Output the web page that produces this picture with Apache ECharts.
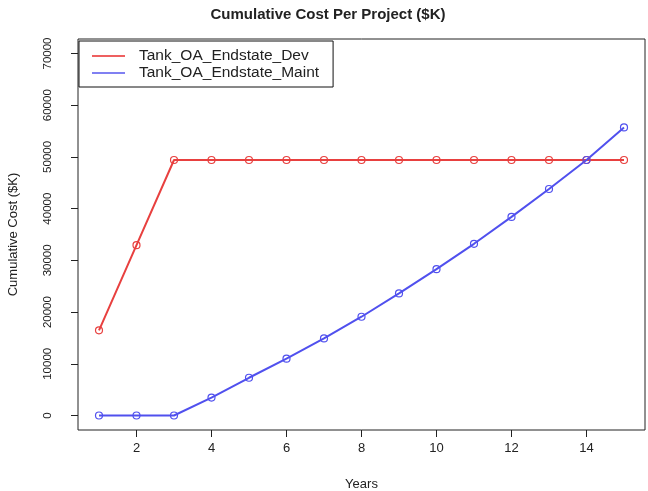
<!DOCTYPE html>
<html>
<head>
<meta charset="utf-8">
<script src="https://cdn.jsdelivr.net/npm/echarts@6/dist/echarts.min.js"></script>
<style>
  html, body { margin: 0; padding: 0; background: #fff; }
  #chart { width: 648px; height: 491px; }
</style>
</head>
<body>
<div id="chart"></div>
<script>
// Project years and cumulative cost ($K) for each endstate project
const years = [1, 2, 3, 4, 5, 6, 7, 8, 9, 10, 11, 12, 13, 14, 15];
const devCost = [16470, 32930, 49400, 49400, 49400, 49400, 49400, 49400, 49400, 49400, 49400, 49400, 49400, 49400, 49400];
const maintCost = [0, 0, 0, 3470, 7300, 11000, 14900, 19100, 23600, 28300, 33200, 38400, 43800, 49400, 55700];
const xTicks = [2, 4, 6, 8, 10, 12, 14];
const yTicks = [0, 10000, 20000, 30000, 40000, 50000, 60000, 70000];
const seriesNames = ['Tank_OA_Endstate_Dev', 'Tank_OA_Endstate_Maint'];
const seriesColors = ['#e8403f', '#5050ee'];
const legendColors = ['#ee6060', '#8080f2'];

const pairs = (vals) => years.map((y, i) => [y, vals[i]]);
const FONT = 'Liberation Sans';

// Line with hollow (unfilled) circles at each year
const lineSeries = (idx, vals) => ({
  name: seriesNames[idx],
  type: 'line',
  data: pairs(vals),
  color: seriesColors[idx],
  symbol: 'circle',
  symbolSize: 7,
  lineStyle: { width: 2, color: seriesColors[idx] },
  itemStyle: { color: 'rgba(0,0,0,0)', borderColor: seriesColors[idx], borderWidth: 1.2 }
});

const chart = echarts.init(document.getElementById('chart'), null, { renderer: 'canvas' });
chart.setOption({
  animation: false,
  backgroundColor: '#ffffff',
  title: {
    text: 'Cumulative Cost Per Project ($K)',
    left: 323,
    top: 2,
    textAlign: 'center',
    textStyle: { fontFamily: FONT, fontSize: 15, fontWeight: 'bold', color: '#222' }
  },
  legend: {
    orient: 'vertical',
    left: 79,
    top: 41,
    padding: [7, 14, 6, 13],
    itemGap: 1,
    itemWidth: 33,
    itemHeight: 2,
    icon: 'rect',
    backgroundColor: '#fff',
    borderColor: '#111',
    borderWidth: 1,
    textStyle: { fontFamily: FONT, fontSize: 15.5, color: '#222', padding: [0, 0, 0, 9] },
    data: seriesNames.map((n, i) => ({
      name: n,
      itemStyle: { color: legendColors[i], borderWidth: 0 }
    }))
  },
  grid: {
    left: 78,
    right: 3,
    top: 39,
    bottom: 61,
    show: true,
    borderColor: '#222',
    borderWidth: 1,
    backgroundColor: 'transparent',
    outerBoundsMode: 'none'
  },
  xAxis: {
    type: 'value',
    min: 0.44,
    max: 15.56,
    name: 'Years',
    nameLocation: 'middle',
    nameGap: 48,
    nameTextStyle: { fontFamily: FONT, fontSize: 13, color: '#222' },
    axisLine: { show: false, onZero: false },
    splitLine: { show: false },
    axisTick: { show: true, length: 7, customValues: xTicks, lineStyle: { color: '#222' } },
    axisLabel: { customValues: xTicks, margin: 12, fontFamily: FONT, fontSize: 13, color: '#222' }
  },
  yAxis: {
    type: 'value',
    min: -2800,
    max: 72800,
    name: 'Cumulative Cost ($K)',
    nameLocation: 'middle',
    nameGap: 58,
    nameTextStyle: { fontFamily: FONT, fontSize: 13, color: '#222' },
    axisLine: { show: false, onZero: false },
    splitLine: { show: false },
    axisTick: { show: true, length: 7, customValues: yTicks, lineStyle: { color: '#222' } },
    axisLabel: {
      customValues: yTicks,
      rotate: 90,
      margin: 24,
      fontFamily: FONT,
      fontSize: 11.5,
      color: '#222',
      formatter: (v) => String(v)
    }
  },
  series: [lineSeries(0, devCost), lineSeries(1, maintCost)]
});
</script>
</body>
</html>
